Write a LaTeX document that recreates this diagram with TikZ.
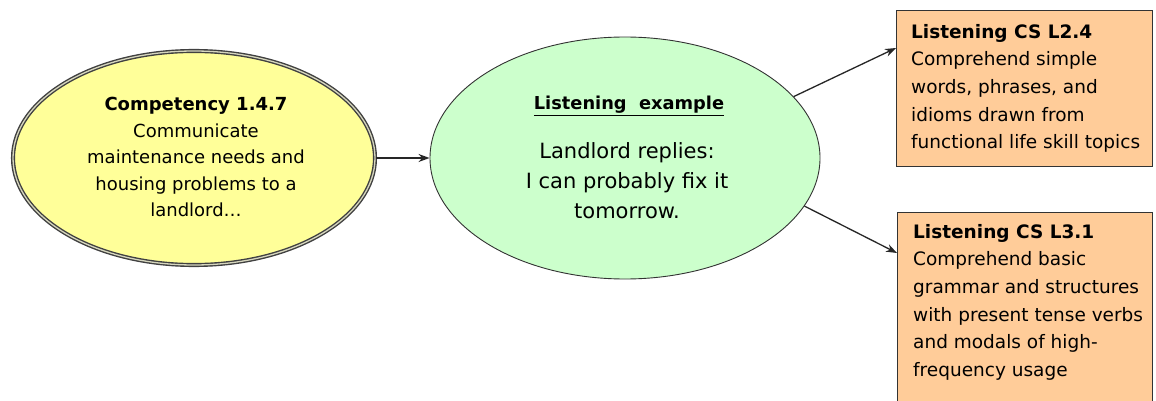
\documentclass[tikz,border=0pt]{standalone}
\usepackage{fontspec}
\setmainfont{DejaVu Sans}
\usetikzlibrary{shapes.geometric,arrows.meta}
\definecolor{cyellow}{HTML}{FFFF99}
\definecolor{cgreen}{HTML}{CCFFCC}
\definecolor{corange}{HTML}{FFCC99}
\tikzset{
  arr/.style={-{Stealth[length=11pt,width=8pt]}, line width=1.3pt, black!85},
  txt/.style={font=\fontsize{18.5}{27.6}\selectfont}
}
\begin{document}
\begin{tikzpicture}[x=1pt,y=1pt]
\useasboundingbox (0,0) rectangle (1156,-401);
\clip (0,0) rectangle (1156,-401);
\fill[white] (0,0) rectangle (1156,-401);
% left ellipse
\node (comp) [ellipse, draw=black!75, line width=1.4pt, double=cyellow!60!black!40, double distance=1.3pt, fill=cyellow, minimum width=362pt, minimum height=214pt, inner sep=0pt] at (194,-158) {};
\node (comptext) [align=center, font=\fontsize{18}{26.5}\selectfont] at (196,-157) {\textbf{Competency 1.4.7}\\Communicate\\maintenance needs and\\housing problems to a\\landlord\ldots};
% middle ellipse
\node (ex) [ellipse, draw=black!80, line width=0.9pt, fill=cgreen, minimum width=390pt, minimum height=242pt, inner sep=0pt] at (625,-158) {};
\node (extitle) [font=\fontsize{17.8}{26}\selectfont\bfseries] at (629,-106) {\underline{Listening\ \ example}};
\node (extext) [align=center, font=\fontsize{21}{30}\selectfont] at (627,-181) {Landlord replies:\\I can probably fix it\\tomorrow.};
% boxes
\path (896,-11) coordinate (b1nw);
\draw[draw=black!80, line width=1pt, fill=corange] (b1nw) rectangle (1152,-166);
\node (b1) [align=left, anchor=north west, txt, inner sep=0pt] at (911,-24) {\textbf{Listening CS L2.4}\\Comprehend simple\\words, phrases, and\\idioms drawn from\\functional life skill topics};
\path (897,-212) coordinate (b2nw);
\draw[draw=black!80, line width=1pt, fill=corange] (b2nw) rectangle (1152,-420);
\node (b2) [align=left, anchor=north west, txt, inner sep=0pt] at (913,-224) {\textbf{Listening CS L3.1}\\Comprehend basic\\grammar and structures\\with present tense verbs\\and modals of high-\\frequency usage};
% connectors
\draw[arr] (comp.east) -- (ex.west);
\draw[arr] (ex.20) -- (b1nw |- 0,-48);
\draw[arr] (ex.-15) -- (b2nw |- 0,-253);
\end{tikzpicture}
\end{document}
